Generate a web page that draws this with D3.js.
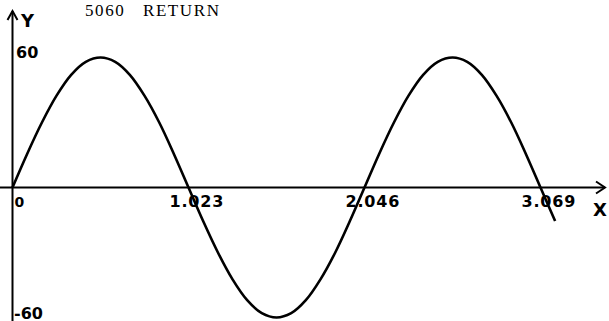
<!DOCTYPE html>
<html>
<head>
<meta charset="utf-8">
<script src="https://cdn.jsdelivr.net/npm/d3@7"></script>
<style>
  html, body { margin: 0; padding: 0; background: #fff; }
  svg { display: block; }
  .lbl { font-family: "DejaVu Sans", sans-serif; font-weight: bold; fill: #000; }
  .title { font-family: "Liberation Serif", "Times New Roman", serif; fill: #000; white-space: pre; }
</style>
</head>
<body>
<svg id="chart" width="609" height="321"></svg>
<script>
// Sampled points along the plotted curve (x in the X-axis units, y in Y units)
const xs = [0, 0.085, 0.171, 0.256, 0.341, 0.426, 0.512, 0.597, 0.682, 0.767, 0.853, 0.938,
            1.023, 1.108, 1.194, 1.279, 1.364, 1.449, 1.535, 1.620, 1.705, 1.790, 1.876, 1.961,
            2.046, 2.131, 2.217, 2.302, 2.387, 2.472, 2.558, 2.643, 2.728, 2.813, 2.899, 2.984,
            3.069, 3.154];
const ys = [0, 15.5, 30, 42.4, 52, 58, 60, 58, 52, 42.4, 30, 15.5,
            0, -15.5, -30, -42.4, -52, -58, -60, -58, -52, -42.4, -30, -15.5,
            0, 15.5, 30, 42.4, 52, 58, 60, 58, 52, 42.4, 30, 15.5,
            0, -15.5];

// Axis tick labels
const xTicks = [0, 1.023, 2.046, 3.069];
const xTickLabels = ["0", "1.023", "2.046", "3.069"];
const yTicks = [60, -60];
const yTickLabels = ["60", "-60"];

const svg = d3.select("#chart");
const x = d3.scaleLinear().domain([0, 3.069]).range([12.5, 540.5]);
const y = d3.scaleLinear().domain([-60, 60]).range([317.5, 57.5]);

// Title line above the plot
svg.append("text").attr("class", "title")
  .attr("x", 85).attr("y", 16).attr("font-size", 17).attr("letter-spacing", 1.6)
  .text("5060   RETURN");

// X axis with arrow
const x0 = x(0), y0 = y(0);
svg.append("line").attr("x1", 0).attr("x2", 605).attr("y1", y0).attr("y2", y0)
  .attr("stroke", "#000").attr("stroke-width", 2);
svg.append("path").attr("d", `M596,${y0 - 6} L605,${y0} L596,${y0 + 6}`)
  .attr("fill", "none").attr("stroke", "#000").attr("stroke-width", 2);

// Y axis with arrow
svg.append("line").attr("x1", x0).attr("x2", x0).attr("y1", 321).attr("y2", 11)
  .attr("stroke", "#000").attr("stroke-width", 2);
svg.append("path").attr("d", `M${x0 - 5},${20} L${x0},${11} L${x0 + 5},${20}`)
  .attr("fill", "none").attr("stroke", "#000").attr("stroke-width", 2);

// Axis names
svg.append("text").attr("class", "lbl").attr("x", 21).attr("y", 27)
  .attr("font-size", 18).text("Y");
svg.append("text").attr("class", "lbl").attr("x", 593).attr("y", 216)
  .attr("font-size", 18).text("X");

// X tick labels: decimal point placed just left of the tick
xTicks.forEach((v, i) => {
  const t = svg.append("text").attr("class", "lbl")
    .attr("font-size", 16).attr("letter-spacing", 0.8)
    .attr("y", y0 + 19).text(xTickLabels[i]);
  if (v === 0) {
    t.attr("x", x(v) + 2).attr("font-size", 14);
  } else {
    const probe = svg.append("text").attr("class", "lbl")
      .attr("font-size", 16).attr("letter-spacing", 0.8)
      .text(xTickLabels[i].split(".")[0]);
    const w = probe.node().getComputedTextLength();
    probe.remove();
    t.attr("x", x(v) - w - 7);
  }
});

// Y tick labels
yTicks.forEach((v, i) => {
  svg.append("text").attr("class", "lbl")
    .attr("font-size", 16)
    .attr("x", v > 0 ? 16 : 14)
    .attr("y", v > 0 ? y(v) : y(v) + 1)
    .text(yTickLabels[i]);
});

// The curve
const line = d3.line().x((d, i) => x(xs[i])).y((d, i) => y(ys[i])).curve(d3.curveCatmullRom);
svg.append("path").datum(xs).attr("d", line)
  .attr("fill", "none").attr("stroke", "#000").attr("stroke-width", 2.6)
  .attr("stroke-linejoin", "round");
</script>
</body>
</html>
